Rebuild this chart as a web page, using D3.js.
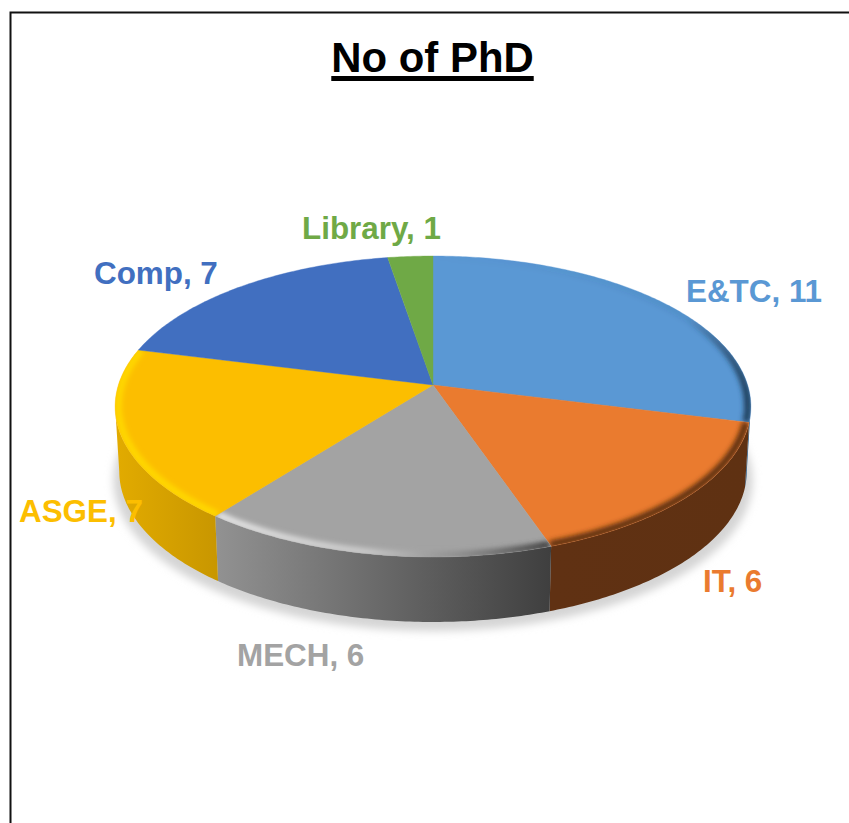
<!DOCTYPE html>
<html>
<head>
<meta charset="utf-8">
<script src="https://cdn.jsdelivr.net/npm/d3@7"></script>
<style>
  html, body { margin: 0; padding: 0; background: #fff; overflow: hidden; }
  text { font-family: "Liberation Sans", Arial, sans-serif; font-weight: bold; }
</style>
</head>
<body>
<script>
/* ------------------------------- chart data ------------------------------- */
const departments = ["E&TC", "IT", "MECH", "ASGE", "Comp", "Library"];
const phdCounts = [11, 6, 6, 7, 7, 1];
const sliceColors = ["#5a98d4", "#ea7b2f", "#a3a3a3", "#fcbe00", "#416fc0", "#6fa946"];
const chartTitle = "No of PhD";

/* ------------------------------ hand placement ----------------------------- */
const labelAnchors = [[686, 302], [703, 592], [237, 666], [19, 522], [94, 284], [302, 239]];
const sideStops = [
    ["#2c5a84", "#2c5a84"],
    ["#603113", "#5f3112"],
    ["#929292", "#3f3f3f"],
    ["#e2ab00", "#c99700"],
    ["#27447a", "#27447a"],
    ["#42682a", "#42682a"]
];
// bevel colour along x, [offset, colour, opacity]
const bevelStops = [
    [[0, "#1f3f5c", 0], [0.8, "#1f3f5c", 0.1], [1, "#1c3a55", 1]],
    [[0, "#5a2d10", 1], [1, "#5a2d10", 1]],
    [[0, "#e6e6e6", 1], [0.45, "#cccccc", 0.95], [0.72, "#8a8a8a", 0.8], [1, "#3a3a3a", 1]],
    [[0, "#ffd800", 1], [1, "#ffd800", 1]],
    [[0, "#000", 0], [1, "#000", 0]],
    [[0, "#000", 0], [1, "#000", 0]]
];

/* -------------------------------- geometry -------------------------------- */
const width = 849, height = 823;
const hubX = 433, hubY = 385;
const radiusX = 314.6, radiusY = 147.4, tilt = 1 / 7, depth = 65;
const frontLimit = Math.acos(-tilt);   // angle where the rim turns away from us

const xScale = d3.scaleLinear().domain([-1, 1]).range([hubX - radiusX, hubX + radiusX]);
const yScale = d3.scaleLinear().domain([-1, 1]).range([hubY + radiusY, hubY - radiusY]);

// perspective projection of a point of the pie plane
var project = function(angle, r, shrink, drop) {
    var u = r * Math.sin(angle), v = r * Math.cos(angle), w = 1 + tilt * v;
    return [hubX + (xScale(u / w) - hubX) * shrink, yScale(v / w) + drop];
};

var sampleAngles = function(a0, a1) {
    var n = Math.max(2, Math.ceil(Math.abs(a1 - a0) / 0.012));
    return d3.range(n + 1).map((i) => a0 + (a1 - a0) * i / n);
};

const line = d3.line();

const pie = d3.pie().sort(null).value((d) => d)(phdCounts);

/* ----------------------------- create main svg ---------------------------- */
const svg = d3.select("body").append("svg")
    .attr("width", width)
    .attr("height", height)
    .style("display", "block");

svg.append("rect").attr("width", width).attr("height", height).attr("fill", "#fff");

const defs = svg.append("defs");
defs.append("filter").attr("id", "shadowBlur")
    .attr("x", "-10%").attr("y", "-10%").attr("width", "120%").attr("height", "120%")
    .append("feGaussianBlur").attr("stdDeviation", 4);
defs.append("filter").attr("id", "bevelBlur")
    .attr("filterUnits", "userSpaceOnUse")
    .attr("x", 0).attr("y", 0).attr("width", width).attr("height", height)
    .append("feGaussianBlur").attr("stdDeviation", 2.4);

/* ---------------------------------- frame --------------------------------- */
svg.append("path")
    .attr("d", "M" + [10.5, height] + "V12.5H" + width)
    .attr("fill", "none")
    .attr("stroke", "#111")
    .attr("stroke-width", 2);

/* ---------------------------------- title --------------------------------- */
const title = svg.append("text")
    .attr("x", 432.5)
    .attr("y", 72)
    .attr("text-anchor", "middle")
    .attr("font-size", 41.9)
    .attr("fill", "#000")
    .text(chartTitle);
const titleWidth = title.node().getComputedTextLength();
svg.append("rect")
    .attr("x", 432.5 - titleWidth / 2)
    .attr("y", 76)
    .attr("width", titleWidth)
    .attr("height", 5)
    .attr("fill", "#000");

/* --------------------------------- shadow --------------------------------- */
const fullCircle = sampleAngles(0, 2 * Math.PI);
svg.append("path")
    .attr("d", line(fullCircle.map((a) => project(a, 1, 1.005, depth + 9))) + "Z")
    .attr("fill", "#d4d4d4")
    .attr("filter", "url(#shadowBlur)");

/* ---------------------------------- sides --------------------------------- */
pie.forEach(function(d, i) {
    var a0 = Math.max(d.startAngle, frontLimit),
        a1 = Math.min(d.endAngle, 2 * Math.PI - frontLimit);
    if (a1 <= a0) return;
    var angles = sampleAngles(a0, a1);
    var top = angles.map((a) => project(a, 1, 1, 0));
    var bottom = angles.slice().reverse().map((a) => project(a, 1, 0.987, depth));
    var grad = defs.append("linearGradient").attr("id", "side" + i)
        .attr("gradientUnits", "userSpaceOnUse")
        .attr("x1", top[0][0] < top[top.length - 1][0] ? top[0][0] : top[top.length - 1][0])
        .attr("x2", top[0][0] < top[top.length - 1][0] ? top[top.length - 1][0] : top[0][0])
        .attr("y1", 0).attr("y2", 0);
    grad.append("stop").attr("offset", 0).attr("stop-color", sideStops[i][0]);
    grad.append("stop").attr("offset", 1).attr("stop-color", sideStops[i][1]);
    svg.append("path")
        .attr("d", line(top.concat(bottom)) + "Z")
        .attr("fill", "url(#side" + i + ")");
});

/* ------------------------------- top surface ------------------------------ */
pie.forEach(function(d, i) {
    var rim = sampleAngles(d.startAngle, d.endAngle).map((a) => project(a, 1, 1, 0));
    var face = line([project(0, 0, 1, 0)].concat(rim)) + "Z";

    svg.append("path")
        .attr("d", face)
        .attr("fill", sliceColors[i])
        .attr("stroke", sliceColors[i])
        .attr("stroke-width", 0.4);

    defs.append("clipPath").attr("id", "face" + i)
        .append("path").attr("d", face);

    var xs = rim.map((p) => p[0]);
    var grad = defs.append("linearGradient").attr("id", "bevel" + i)
        .attr("gradientUnits", "userSpaceOnUse")
        .attr("x1", d3.min(xs)).attr("x2", d3.max(xs))
        .attr("y1", 0).attr("y2", 0);
    bevelStops[i].forEach(function(s) {
        grad.append("stop")
            .attr("offset", s[0])
            .attr("stop-color", s[1])
            .attr("stop-opacity", s[2]);
    });

    svg.append("g")
        .attr("clip-path", "url(#face" + i + ")")
        .append("path")
        .attr("d", line(sampleAngles(d.startAngle, d.endAngle).map((a) => project(a, 0.99, 1, 0))))
        .attr("fill", "none")
        .attr("stroke", "url(#bevel" + i + ")")
        .attr("stroke-width", 7)
        .attr("filter", "url(#bevelBlur)");
});

/* --------------------------------- labels --------------------------------- */
svg.selectAll(".slice-label")
    .data(pie)
    .enter().append("text")
    .attr("class", "slice-label")
    .attr("x", (d, i) => labelAnchors[i][0])
    .attr("y", (d, i) => labelAnchors[i][1])
    .attr("font-size", 31.4)
    .attr("fill", (d, i) => sliceColors[i])
    .text((d, i) => departments[i] + ", " + d.value);
</script>
</body>
</html>
